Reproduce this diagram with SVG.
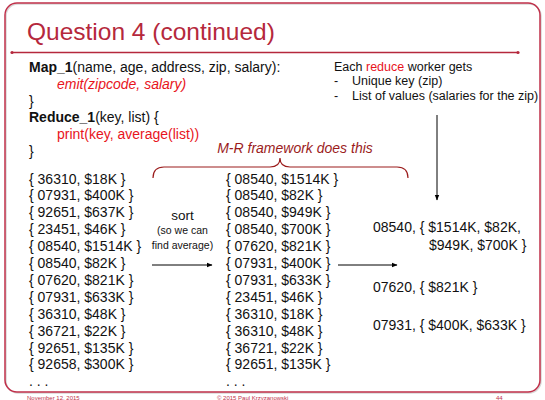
<svg xmlns="http://www.w3.org/2000/svg" width="545" height="400" viewBox="0 0 545 400">
<defs>
<marker id="ah" markerWidth="6" markerHeight="6" refX="5" refY="3" orient="auto" markerUnits="userSpaceOnUse">
<path d="M0,0.8 L5.5,3 L0,5.2 Z" fill="#000"/>
</marker>
</defs>
<style>
text{font-family:"Liberation Sans",Arial,sans-serif;fill:#111;}
.b{font-size:14px;}
.bold{font-weight:bold;}
.red{fill:#e8141c;}
.it{font-style:italic;}
.mr{font-size:14px;font-style:italic;fill:#9b1c1c;}
.hdr{font-size:12.5px;}
.small{font-size:10.5px;}
.foot{font-size:6px;fill:#c0304a;}
.conn{stroke:#000;stroke-width:1;fill:none;}
</style>
<rect width="545" height="400" fill="#fff"/>
<g id="frame">
<rect x="6" y="4" width="535" height="389" rx="12" ry="12" fill="none" stroke="#d8d8d8" stroke-width="1.5"/>
<rect x="5" y="3" width="535" height="389" rx="12" ry="12" fill="none" stroke="#c0304a" stroke-width="1.5"/>
<line x1="12" y1="52.5" x2="518" y2="52.5" stroke="#b5283c" stroke-width="1.3"/>
<circle cx="12" cy="52.5" r="1.6" fill="#b5283c"/>
<circle cx="518" cy="52.5" r="1.6" fill="#b5283c"/>
</g>
<g id="title">
<text x="27" y="40" style="font-size:24.5px;fill:#b5283c;">Question 4 (continued)</text>
</g>
<g id="code">
<text class="b" x="29" y="72"><tspan class="bold">Map_1</tspan>(name, age, address, zip, salary):</text>
<text class="b red it" x="57" y="89">emit(zipcode, salary)</text>
<text class="b" x="29" y="106">}</text>
<text class="b" x="29" y="122"><tspan class="bold">Reduce_1</tspan>(key, list) {</text>
<text class="b red" x="57" y="139">print(key, average(list))</text>
<text class="b" x="29" y="156">}</text>
</g>
<g id="reduce-note">
<text class="hdr" x="334" y="71">Each <tspan class="red">reduce</tspan> worker gets</text>
<text class="hdr" x="334" y="85">-</text>
<text class="hdr" x="352" y="85">Unique key (zip)</text>
<text class="hdr" x="334" y="100">-</text>
<text class="hdr" x="352" y="100">List of values (salaries for the zip)</text>
</g>
<g id="mr-label">
<text class="mr" x="295" y="153" text-anchor="middle">M-R framework does this</text>
</g>
<g id="map-output">
<text class="b" x="29" y="183.5">{ 36310, $18K }</text>
<text class="b" x="29" y="200.4">{ 07931, $400K }</text>
<text class="b" x="29" y="217.3">{ 92651, $637K }</text>
<text class="b" x="29" y="234.2">{ 23451, $46K }</text>
<text class="b" x="29" y="251.1">{ 08540, $1514K }</text>
<text class="b" x="29" y="268">{ 08540, $82K }</text>
<text class="b" x="29" y="284.9">{ 07620, $821K }</text>
<text class="b" x="29" y="301.8">{ 07931, $633K }</text>
<text class="b" x="29" y="318.7">{ 36310, $48K }</text>
<text class="b" x="29" y="335.6">{ 36721, $22K }</text>
<text class="b" x="29" y="352.5">{ 92651, $135K }</text>
<text class="b" x="29" y="369.4">{ 92658, $300K }</text>
<text class="b" x="29" y="386">. . .</text>
</g>
<g id="sort-label">
<text x="182.5" y="220" text-anchor="middle" style="font-size:13.5px;">sort</text>
<text class="small" x="182.5" y="234" text-anchor="middle">(so we can</text>
<text class="small" x="182.5" y="249" text-anchor="middle">find average)</text>
</g>
<g id="sorted">
<text class="b" x="226" y="183.5">{ 08540, $1514K }</text>
<text class="b" x="226" y="200.4">{ 08540, $82K }</text>
<text class="b" x="226" y="217.3">{ 08540, $949K }</text>
<text class="b" x="226" y="234.2">{ 08540, $700K }</text>
<text class="b" x="226" y="251.1">{ 07620, $821K }</text>
<text class="b" x="226" y="268">{ 07931, $400K }</text>
<text class="b" x="226" y="284.9">{ 07931, $633K }</text>
<text class="b" x="226" y="301.8">{ 23451, $46K }</text>
<text class="b" x="226" y="318.7">{ 36310, $18K }</text>
<text class="b" x="226" y="335.6">{ 36310, $48K }</text>
<text class="b" x="226" y="352.5">{ 36721, $22K }</text>
<text class="b" x="226" y="369.4">{ 92651, $135K }</text>
<text class="b" x="226" y="386">. . .</text>
</g>
<g id="reduce-input">
<text class="b" x="373" y="232">08540, { $1514K, $82K,</text>
<text class="b" x="429" y="250">$949K, $700K }</text>
<text class="b" x="373" y="292">07620, { $821K }</text>
<text class="b" x="373" y="330">07931, { $400K, $633K }</text>
</g>
<g id="connectors">
<path class="conn" d="M153,178 Q153,167 164,167 L270,167 Q280,167 280,158 Q280,167 290,167 L397,167 Q408,167 408,178" style="stroke:#9b1c1c;stroke-width:1.2;"/>
<line class="conn" x1="152" y1="265" x2="212" y2="265" marker-end="url(#ah)"/>
<line class="conn" x1="338" y1="265" x2="397" y2="265" marker-end="url(#ah)"/>
<line class="conn" x1="437" y1="115" x2="437" y2="200" marker-end="url(#ah)"/>
</g>
<g id="footer">
<text class="foot" x="27" y="399.5">November 12, 2015</text>
<text class="foot" x="217" y="399.5">© 2015 Paul Krzyzanowski</text>
<text class="foot" x="496" y="399.5">44</text>
</g>
</svg>
